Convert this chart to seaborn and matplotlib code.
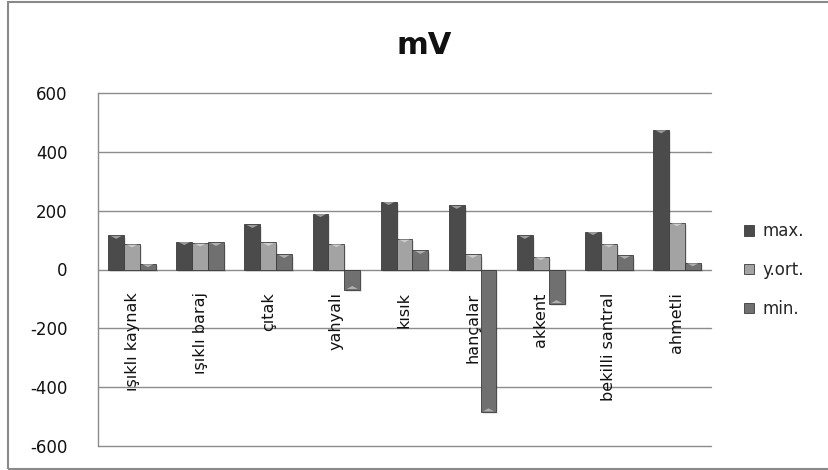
import numpy as np
import pandas as pd
import matplotlib
matplotlib.use("Agg")
import matplotlib.pyplot as plt
from matplotlib.patches import Patch, Rectangle, Polygon
import seaborn as sns

# Station names and measured potentials (mV)
stations = ["ışıklı kaynak", "ışıklı baraj", "çıtak", "yahyalı", "kısık",
            "hançalar", "akkent", "bekilli santral", "ahmetli"]
max_vals = [116, 95, 153, 190, 231, 218, 116, 129, 475]
avg_vals = [87, 90, 92, 88, 104, 51, 44, 87, 159]
min_vals = [20, 92, 51, -68, 65, -484, -116, 48, 23]
series_names = ["max.", "y.ort.", "min."]
y_ticks = [-600, -400, -200, 0, 200, 400, 600]

colors = ["#4b4b4b", "#a3a3a3", "#707070"]

df = pd.DataFrame({
    "station": stations * 3,
    "series": [series_names[0]] * 9 + [series_names[1]] * 9 + [series_names[2]] * 9,
    "value": max_vals + avg_vals + min_vals,
})

sns.set_theme(style="white")
plt.rcParams["font.family"] = ["DejaVu Sans"]

fig = plt.figure(figsize=(8.29, 4.70), dpi=100)
ax = fig.add_axes([98 / 829, 1 - 446 / 470, (711 - 98) / 829, (446 - 93) / 470])

sns.barplot(data=df, x="station", y="value", hue="series", order=stations,
            hue_order=series_names, palette=colors, width=0.7, saturation=1,
            errorbar=None, legend=False, ax=ax, zorder=3,
            edgecolor="#3a3a3a", linewidth=0.6)

# Bevel-style accents on each bar: soft shadow and a light triangle at the end
for patch in list(ax.patches):
    x0, y0 = patch.get_x(), patch.get_y()
    w, h = patch.get_width(), patch.get_height()
    ax.add_patch(Rectangle((x0 + 0.03, y0 - 8), w, h, facecolor="#000000",
                           alpha=0.10, zorder=2, linewidth=0))
    top = y0 + h
    tri_h = 12 if h > 0 else -12
    ax.add_patch(Polygon([(x0 + w * 0.15, top - tri_h * 0.15),
                          (x0 + w * 0.85, top - tri_h * 0.15),
                          (x0 + w * 0.5, top - tri_h)],
                         closed=True, facecolor="#ffffff", alpha=0.45,
                         zorder=4, linewidth=0))

ax.set_ylim(-600, 600)
ax.set_xlim(-0.5, len(stations) - 0.5)
ax.set_yticks(y_ticks)
ax.set_yticklabels([str(v) for v in y_ticks], fontsize=12, color="#111111")
ax.tick_params(axis="y", length=0, pad=22)
ax.set_xticks([])
ax.set_xlabel("")
ax.set_ylabel("")
ax.set_axisbelow(True)
for v in y_ticks:
    ax.axhline(v, color="#8c8c8c", linewidth=1.0, zorder=0, clip_on=False)
for side in ["top", "right", "bottom"]:
    ax.spines[side].set_visible(False)
ax.spines["left"].set_color("#8c8c8c")
ax.spines["left"].set_linewidth(1.0)

# Station names drawn vertically just below the zero line
for i, name in enumerate(stations):
    ax.annotate(name, xy=(i, 0), xytext=(0, -23), textcoords="offset pixels",
                rotation=90, ha="center", va="top", fontsize=11.5,
                color="#111111", zorder=5)

fig.text(424 / 829, 1 - 45 / 470, "mV", ha="center", va="center",
         fontsize=22, fontweight="bold", color="#111111")

handles = [Patch(facecolor=c, edgecolor="#3a3a3a", linewidth=0.6) for c in colors]
fig.legend(handles, series_names, loc="center left",
           bbox_to_anchor=(744 / 829, 1 - 270 / 470), frameon=False,
           fontsize=12, handlelength=0.6, handleheight=0.6, handletextpad=0.5,
           labelspacing=1.25, borderpad=0, borderaxespad=0)

# Chart frame
fig.patches.append(Rectangle((8 / 829, 1 - 469 / 470), 1.2, 467 / 470,
                             transform=fig.transFigure, fill=False,
                             edgecolor="#8a8a8a", linewidth=1.5))

fig.savefig("out.png", dpi=100, facecolor="white")
